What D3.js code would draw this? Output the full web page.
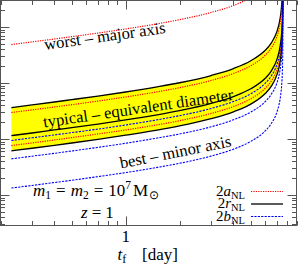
<!DOCTYPE html>
<html>
<head>
<meta charset="utf-8">
<script src="https://cdn.jsdelivr.net/npm/d3@7"></script>
<style>
  body { margin: 0; background: #fff; }
  svg { display: block; }
  text { font-family: "Liberation Serif", "Times New Roman", serif; fill: #000; }
</style>
</head>
<body>
<svg id="chart" width="298" height="264"></svg>
<script>
// time before merger, days
const tDays = [0.23, 0.3, 0.4, 0.5, 0.7, 1, 1.5, 2, 3, 4, 5, 6, 6.5, 7, 7.2, 7.35, 7.45, 7.5, 7.53, 7.55, 7.555, 7.559, 7.5595];

// worst case, major axis (2a_NL)
const worstMajor = [486, 542, 611, 672, 780, 922, 1139, 1351, 1817, 2419, 3328];

// typical case, equivalent diameter band
const typicalUpper = [36.4, 40.6, 45.8, 50.4, 58.4, 69.1, 85.4, 101, 136, 181, 250, 380, 516, 836, 1156, 1710, 2720, 4195, 6876, 15030];
const typicalUpperMajor = [29.7, 33.1, 37.3, 41.0, 47.6, 56.3, 69.5, 82.5, 111, 148, 203, 310, 420, 681, 941, 1392, 2215, 3416, 5598];
const typicalMid = [11.5, 12.8, 14.5, 15.9, 18.5, 21.9, 27.0, 32.0, 43.1, 57.3, 78.9, 120, 163, 264, 366, 541, 860, 1326, 2174, 4753];
const typicalMinor = [9.38, 10.5, 11.8, 13.0, 15.0, 17.8, 22.0, 26.1, 35.1, 46.7, 64.2, 97.9, 133, 215, 298, 440, 700, 1080, 1770, 3869];
const typicalMajor = [7.64, 8.51, 9.60, 10.6, 12.3, 14.5, 17.9, 21.2, 28.6, 38.0, 52.3, 79.8, 108, 175, 242, 359, 570, 880, 1442, 3152];
const typicalLower = [6.14, 6.84, 7.71, 8.48, 9.85, 11.7, 14.4, 17.1, 23.0, 30.6, 42.0, 64.1, 87.0, 141, 195, 288, 458, 707, 1159, 2533, 4145];

// minor axis below the band, and best case minor axis (2b_NL)
const lowerMinor = [4.42, 4.93, 5.55, 6.11, 7.09, 8.39, 10.4, 12.3, 16.5, 22.0, 30.3, 46.1, 62.6, 101, 140, 207, 330, 509, 834, 1823, 2984, 9395];
const bestMinor = [1.33, 1.48, 1.67, 1.83, 2.13, 2.51, 3.11, 3.68, 4.95, 6.59, 9.07, 13.8, 18.8, 30.4, 42.0, 62.2, 98.9, 153, 250, 547, 895, 2817, 4600];

const xTickLabels = [1];

var svg = d3.select('#chart');

var plot = { left: 0.5, top: 0.5, right: 296.5, bottom: 225.5 };

var x = d3.scaleLog().domain([0.2, 9]).range([plot.left, plot.right]);
var y = d3.scaleLog().domain([0.2853, 2973]).range([plot.bottom, plot.top]);

svg.append('defs')
  .append('clipPath')
  .attr('id', 'clip')
  .append('rect')
  .attr('x', plot.left)
  .attr('y', plot.top)
  .attr('width', plot.right - plot.left)
  .attr('height', plot.bottom - plot.top);

var g = svg.append('g').attr('clip-path', 'url(#clip)');

var line = d3.line()
  .x((d, i) => x(tDays[i]))
  .y(d => y(d))
  .curve(d3.curveMonotoneX);

// yellow band between the outer black curves
var band = d3.range(typicalUpper.length);
g.append('path')
  .datum(band)
  .attr('fill', '#ffff00')
  .attr('d', d3.area()
    .x(i => x(tDays[i]))
    .y0(i => y(typicalLower[i]))
    .y1(i => y(typicalUpper[i]))
    .curve(d3.curveMonotoneX));

var RED = { stroke: '#ff0000', width: 1.2, dash: '1.2,1.2' };
var BLACK = { stroke: '#000', width: 1.3, dash: null };
var BLUE = { stroke: '#0000ff', width: 1.1, dash: '2.2,1.2' };

var series = [
  { values: worstMajor, style: RED },
  { values: typicalUpper, style: BLACK },
  { values: typicalUpperMajor, style: RED },
  { values: typicalMid, style: BLACK },
  { values: typicalMinor, style: BLUE },
  { values: typicalMajor, style: RED },
  { values: typicalLower, style: BLACK },
  { values: lowerMinor, style: BLUE },
  { values: bestMinor, style: BLUE }
];

g.selectAll('path.curve')
  .data(series)
  .enter()
  .append('path')
  .attr('class', 'curve')
  .attr('fill', 'none')
  .attr('stroke', d => d.style.stroke)
  .attr('stroke-width', d => d.style.width)
  .attr('stroke-dasharray', d => d.style.dash)
  .attr('d', d => line(d.values));

// frame and ticks
const MAJOR = 9, MINOR = 4.5;
var axes = svg.append('g').attr('stroke', '#555').attr('stroke-width', 1);

axes.append('rect')
  .attr('x', plot.left).attr('y', plot.top)
  .attr('width', plot.right - plot.left)
  .attr('height', plot.bottom - plot.top)
  .attr('fill', 'none');

var isMajor = v => Math.abs(Math.log10(v) - Math.round(Math.log10(v))) < 1e-6;

x.ticks().forEach(v => {
  var px = Math.round(x(v)) + 0.5, len = isMajor(v) ? MAJOR : MINOR;
  axes.append('line').attr('x1', px).attr('x2', px).attr('y1', plot.bottom).attr('y2', plot.bottom - len);
  axes.append('line').attr('x1', px).attr('x2', px).attr('y1', plot.top).attr('y2', plot.top + len);
});

y.ticks().forEach(v => {
  var py = Math.round(y(v)) + 0.5, len = isMajor(v) ? MAJOR : MINOR;
  axes.append('line').attr('y1', py).attr('y2', py).attr('x1', plot.left).attr('x2', plot.left + len);
  axes.append('line').attr('y1', py).attr('y2', py).attr('x1', plot.right).attr('x2', plot.right - len);
});

svg.selectAll('text.xtick')
  .data(xTickLabels)
  .enter()
  .append('text')
  .attr('class', 'xtick')
  .attr('x', d => x(d))
  .attr('y', 241.5)
  .attr('text-anchor', 'middle')
  .style('font-size', '17px')
  .text(d => d);

// axis title
var xt = svg.append('text').attr('x', 117.5).attr('y', 259.5).style('font-size', '17px');
xt.append('tspan').style('font-style', 'italic').text('t');
xt.append('tspan').attr('dy', 3).style('font-size', '12px').text('f');
svg.append('text').attr('x', 142).attr('y', 259.5).style('font-size', '17px').text('[day]');

// curve labels
function slanted(txt, px, py, angle) {
  svg.append('text')
    .attr('transform', 'translate(' + px + ',' + py + ') rotate(' + angle + ')')
    .style('font-size', '16.5px')
    .text(txt);
}
slanted('worst \u2013 major axis', 45, 50, -8);
slanted('typical \u2013 equivalent diameter', 44, 127.5, -8.3);
slanted('best \u2013 minor axis', 121, 168.5, -11.3);

// mass and redshift
var mt = svg.append('text').attr('x', 33).attr('y', 196).style('font-size', '17px');
mt.append('tspan').style('font-style', 'italic').text('m');
mt.append('tspan').attr('dy', 3).style('font-size', '11.5px').text('1');
mt.append('tspan').attr('dy', -3).attr('dx', 5).text('=');
mt.append('tspan').attr('dx', 5).style('font-style', 'italic').text('m');
mt.append('tspan').attr('dy', 3).style('font-size', '11.5px').text('2');
mt.append('tspan').attr('dy', -3).attr('dx', 5).text('=');
mt.append('tspan').attr('dx', 5).text('10');
mt.append('tspan').attr('dy', -7).style('font-size', '11.5px').text('7');
mt.append('tspan').attr('dy', 7).attr('dx', 2).text('M');
mt.append('tspan').attr('dy', 3).attr('dx', 1).style('font-size', '12px').text('\u2299');

var zt = svg.append('text').attr('x', 81).attr('y', 218).style('font-size', '17px');
zt.append('tspan').style('font-style', 'italic').text('z');
zt.append('tspan').attr('dx', 4).text('=');
zt.append('tspan').attr('dx', 4).text('1');

// legend
var legendItems = [
  { letter: 'a', style: RED },
  { letter: 'r', style: BLACK },
  { letter: 'b', style: BLUE }
];
var legend = svg.append('g');
var item = legend.selectAll('g')
  .data(legendItems)
  .enter()
  .append('g')
  .attr('transform', (d, i) => 'translate(0,' + (i * 12.5) + ')');

item.append('line')
  .attr('x1', 251).attr('x2', 283)
  .attr('y1', 191.5).attr('y2', 191.5)
  .attr('stroke', d => d.style.stroke)
  .attr('stroke-width', d => d.style.width)
  .attr('stroke-dasharray', d => d.style.dash);

var lt = item.append('text')
  .attr('x', 245).attr('y', 195.5)
  .attr('text-anchor', 'end')
  .style('font-size', '15px');
lt.append('tspan').text('2');
lt.append('tspan').style('font-style', 'italic').text(d => d.letter);
lt.append('tspan').attr('dy', 3).style('font-size', '10.5px').text('NL');
</script>
</body>
</html>
